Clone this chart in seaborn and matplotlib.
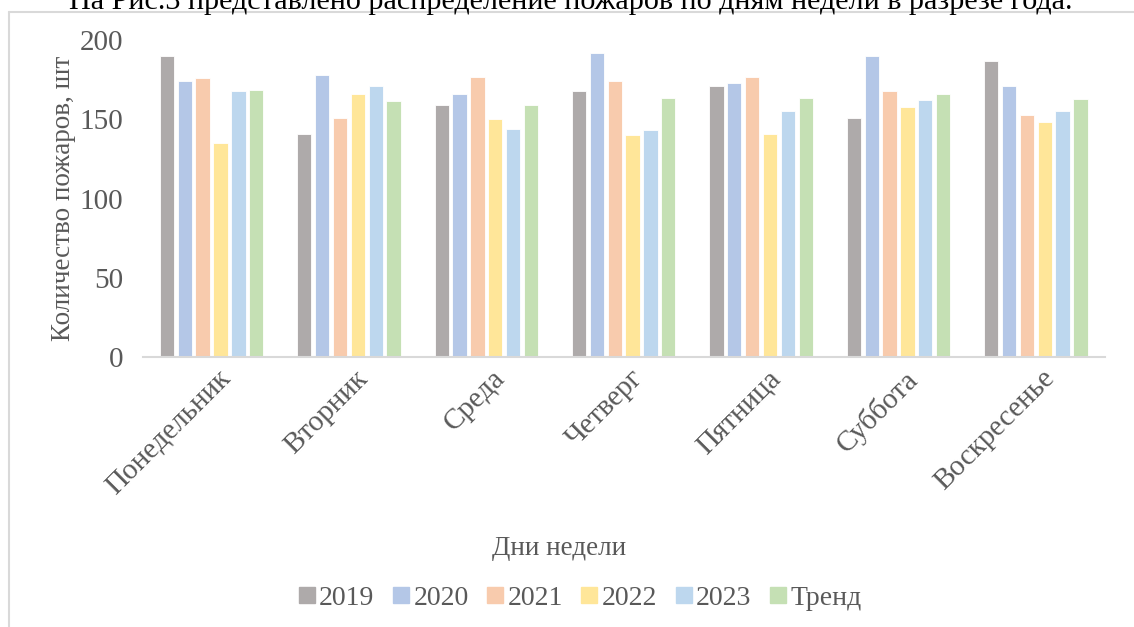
import pandas as pd
import matplotlib.pyplot as plt
import matplotlib.transforms as mtransforms
import seaborn as sns
from matplotlib.lines import Line2D

# Data
days = ["Понедельник", "Вторник", "Среда", "Четверг", "Пятница", "Суббота", "Воскресенье"]
series = ["2019", "2020", "2021", "2022", "2023", "Тренд"]
y2019 = [190, 141, 159, 168, 171, 151, 187]
y2020 = [174, 178, 166, 192, 173, 190, 171]
y2021 = [176, 151, 177, 174, 177, 168, 153]
y2022 = [135, 166, 150, 140, 141, 158, 148]
y2023 = [168, 171, 144, 143, 155, 162, 155]
trend = [168.6, 161.4, 159.2, 163.4, 163.4, 165.8, 162.8]
colors = ["#AEAAAA", "#B4C7E7", "#F8CBAD", "#FFE699", "#BDD7EE", "#C5E0B4"]

rows = []
for name, vals in zip(series, [y2019, y2020, y2021, y2022, y2023, trend]):
    for d, v in zip(days, vals):
        rows.append({"День": d, "Серия": name, "Значение": v})
df = pd.DataFrame(rows)

sns.set_style("white")
plt.rcParams["font.family"] = ["Liberation Serif", "DejaVu Serif"]
grey = "#595959"

fig = plt.figure(figsize=(11.34, 6.27), dpi=100)
ax = fig.add_axes([0.126, 0.4306, 0.848, 0.5055])

sns.barplot(data=df, x="День", y="Значение", hue="Серия", order=days, hue_order=series,
            palette=colors, saturation=1, width=0.78, gap=0.2, ax=ax, legend=False,
            edgecolor="white", linewidth=0.6)

ax.set_ylim(0, 200)
ax.set_yticks([0, 50, 100, 150, 200])
ax.tick_params(axis="y", labelsize=21, labelcolor=grey, length=0, pad=14)
ax.tick_params(axis="x", labelsize=21, labelcolor=grey, length=0, pad=6)
shift = mtransforms.ScaledTranslation(6 / 100, 0, fig.dpi_scale_trans)
for lbl in ax.get_xticklabels():
    lbl.set_rotation(45)
    lbl.set_ha("right")
    lbl.set_rotation_mode("anchor")
    lbl.set_transform(lbl.get_transform() + shift)
for s in ["top", "right", "left"]:
    ax.spines[s].set_visible(False)
ax.spines["bottom"].set_color("#D9D9D9")
ax.spines["bottom"].set_linewidth(1.5)

ax.set_xlabel("Дни недели", fontsize=19.5, color=grey)
ax.set_ylabel("Количество пожаров, шт", fontsize=19.5, color=grey, labelpad=3)
ax.xaxis.set_label_coords(0.433, -0.565)

handles = [Line2D([], [], marker="s", linestyle="", markersize=11, color=c) for c in colors]
fig.legend(handles, series, loc="center", bbox_to_anchor=(0.512, 0.046), ncol=6,
           frameon=False, fontsize=20, labelcolor=grey, handletextpad=0.2,
           columnspacing=0.7, handlelength=0.5)

# chart frame and caption text above
fig.add_artist(Line2D([9 / 1134, 1.0], [1 - 12 / 627, 1 - 12 / 627], color="#D9D9D9", lw=1.5))
fig.add_artist(Line2D([9 / 1134, 9 / 1134], [1 - 12 / 627, 0], color="#D9D9D9", lw=1.5))
fig.text(0.503, 1 - 9 / 627, "На Рис.3 представлено распределение пожаров по дням недели в разрезе года.",
         ha="center", va="baseline", fontsize=21.7, color="black")

fig.savefig("out.png", dpi=100, facecolor="white")
